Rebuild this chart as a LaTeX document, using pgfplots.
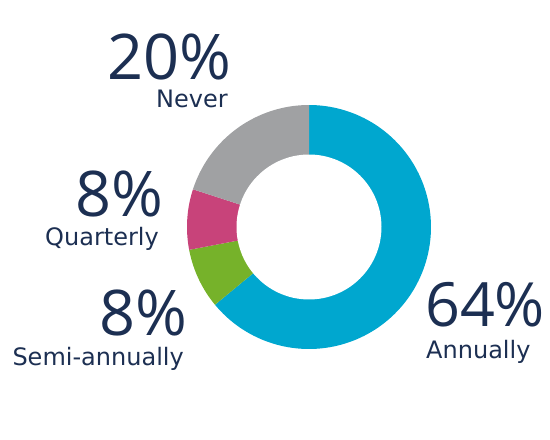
\documentclass[border=0pt]{standalone}
\usepackage{pgfplots}
\pgfplotsset{compat=1.18}
\usepackage{fontspec}
\setmainfont{Open Sans}
\newfontfamily\lblfont{DejaVu Sans}
\definecolor{cAnn}{HTML}{00A7CF}
\definecolor{cSemi}{HTML}{76B22A}
\definecolor{cQuar}{HTML}{C8437A}
\definecolor{cNev}{HTML}{A0A1A3}
\definecolor{navy}{HTML}{1C2F52}
\begin{document}
\begin{tikzpicture}
\begin{axis}[hide axis, scale only axis, width=550bp, height=440bp,
  xmin=0, xmax=550, ymin=0, ymax=440, clip=false]
% shares (percent): Annually 64, Semi-annually 8, Quarterly 8, Never 20
% start at 90 deg, clockwise; angle = 90 - 3.6*cumulative
\addplot[fill=cAnn, draw=none, domain=-140.4:90, samples=120, variable=\t]
  ({309+122*cos(t)}, {213+122*sin(t)}) -- (axis cs:309,213) -- cycle;
\addplot[fill=cSemi, draw=none, domain=-169.2:-140.4, samples=30, variable=\t]
  ({309+122*cos(t)}, {213+122*sin(t)}) -- (axis cs:309,213) -- cycle;
\addplot[fill=cQuar, draw=none, domain=-198:-169.2, samples=30, variable=\t]
  ({309+122*cos(t)}, {213+122*sin(t)}) -- (axis cs:309,213) -- cycle;
\addplot[fill=cNev, draw=none, domain=-270:-198, samples=60, variable=\t]
  ({309+122*cos(t)}, {213+122*sin(t)}) -- (axis cs:309,213) -- cycle;
\addplot[fill=white, draw=none, domain=0:360, samples=120, variable=\t]
  ({309+72.5*cos(t)}, {213+72.5*sin(t)}) -- cycle;
% labels
\node[anchor=base east, text=navy, font=\fontsize{63bp}{63bp}\selectfont, inner sep=0pt] at (axis cs:232,360) {20\%};
\node[anchor=base east, text=navy, font=\lblfont\fontsize{24bp}{24bp}\selectfont, inner sep=0pt] at (axis cs:228,332) {Never};
\node[anchor=base east, text=navy, font=\fontsize{63bp}{63bp}\selectfont, inner sep=0pt] at (axis cs:164,223) {8\%};
\node[anchor=base east, text=navy, font=\lblfont\fontsize{24bp}{24bp}\selectfont, inner sep=0pt] at (axis cs:159,194) {Quarterly};
\node[anchor=base east, text=navy, font=\fontsize{63bp}{63bp}\selectfont, inner sep=0pt] at (axis cs:188,104) {8\%};
\node[anchor=base east, text=navy, font=\lblfont\fontsize{24bp}{24bp}\selectfont, inner sep=0pt] at (axis cs:184,74) {Semi-annually};
\node[anchor=base west, text=navy, font=\fontsize{61bp}{61bp}\selectfont, inner sep=0pt] at (axis cs:425,113) {64\%};
\node[anchor=base west, text=navy, font=\lblfont\fontsize{24bp}{24bp}\selectfont, inner sep=0pt] at (axis cs:426,81) {Annually};
\end{axis}
\pgfresetboundingbox
\path[use as bounding box] (0,0) rectangle (550bp,440bp);
\end{tikzpicture}
\end{document}
